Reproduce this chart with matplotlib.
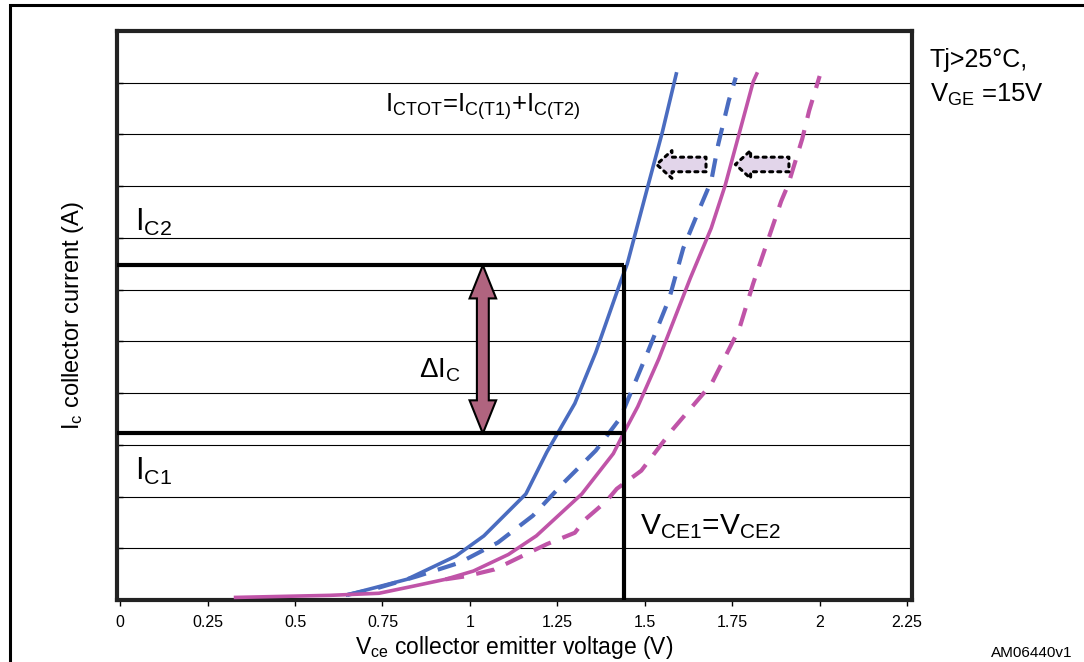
import numpy as np
import matplotlib
matplotlib.use("Agg")
import matplotlib.pyplot as plt
from matplotlib.patches import FancyArrowPatch, Polygon, Rectangle, ArrowStyle

plt.rcParams['font.family'] = ['Liberation Sans', 'DejaVu Sans']
plt.rcParams['mathtext.fontset'] = 'custom'
plt.rcParams['mathtext.rm'] = 'Liberation Sans'
plt.rcParams['mathtext.it'] = 'Liberation Sans'

# curves: Vce (V) vs Ic (grid units)
v_blue_solid = [0.65, 0.82, 0.96, 1.04, 1.16, 1.22, 1.30, 1.36, 1.43, 1.45, 1.51, 1.55, 1.59]
i_blue_solid = [0.10, 0.40, 0.85, 1.24, 2.05, 2.86, 3.80, 4.79, 6.14, 6.50, 8.03, 9.04, 10.17]

v_blue_dash = [0.65, 0.73, 0.85, 0.97, 1.08, 1.18, 1.27, 1.36, 1.43, 1.51, 1.57, 1.61, 1.66, 1.69, 1.71, 1.74, 1.76]
i_blue_dash = [0.10, 0.22, 0.46, 0.72, 1.11, 1.63, 2.28, 2.89, 3.52, 4.82, 5.83, 6.80, 7.62, 8.10, 8.81, 9.65, 10.10]

v_mag_solid = [0.33, 0.60, 0.74, 0.84, 0.93, 1.01, 1.11, 1.19, 1.32, 1.41, 1.44, 1.48, 1.54, 1.63, 1.69, 1.73, 1.77, 1.81, 1.82]
i_mag_solid = [0.05, 0.09, 0.13, 0.27, 0.40, 0.56, 0.88, 1.24, 2.05, 2.83, 3.23, 3.74, 4.66, 6.22, 7.19, 8.02, 9.02, 10.02, 10.17]

v_mag_dash = [0.93, 0.99, 1.07, 1.11, 1.18, 1.22, 1.30, 1.33, 1.39, 1.42, 1.49, 1.58, 1.69, 1.77, 1.81, 1.89, 1.91, 1.95, 1.97, 2.00]
i_mag_dash = [0.40, 0.46, 0.59, 0.72, 0.95, 1.08, 1.30, 1.56, 1.91, 2.15, 2.50, 3.30, 4.17, 5.24, 6.12, 7.71, 8.03, 8.91, 9.46, 10.13]

ic1 = 3.22
ic2 = 6.47
vce = 1.44
v_delta = 1.037
shift_y = 8.42
shift1 = (1.683, 1.526)
shift2 = (1.920, 1.751)

x_ticks = [0, 0.25, 0.5, 0.75, 1, 1.25, 1.5, 1.75, 2, 2.25]
x_tick_labels = ['0', '0.25', '0.5', '0.75', '1', '1.25', '1.5', '1.75', '2', '2.25']

blue = '#4A6CC0'
mag = '#C054A8'

fig = plt.figure(figsize=(10.84, 6.62), dpi=100)
ax = fig.add_axes([117/1084, 62/662, 795/1084, 569/662])

# outer frame
fig.patches.append(Rectangle((10/1084, -0.05), 1.2, 1 - 5/662 + 0.05, transform=fig.transFigure,
                             fill=False, lw=2.2, ec='black'))

ax.plot(v_blue_solid, i_blue_solid, color=blue, lw=2.6, zorder=4)
ax.plot(v_blue_dash, i_blue_dash, color=blue, lw=3, ls=(0, (4.5, 3)), zorder=4)
ax.plot(v_mag_solid, i_mag_solid, color=mag, lw=2.6, zorder=4)
ax.plot(v_mag_dash, i_mag_dash, color=mag, lw=3, ls=(0, (4.5, 3)), zorder=4)

# operating point box
ax.plot([-0.01, vce], [ic2, ic2], color='black', lw=3, zorder=5, solid_capstyle='butt')
ax.plot([-0.01, vce], [ic1, ic1], color='black', lw=3, zorder=5, solid_capstyle='butt')
ax.plot([vce, vce], [0, ic2], color='black', lw=3, zorder=5, solid_capstyle='butt')

# double headed arrow for delta Ic
sw, hw, hl = 0.017, 0.038, 0.64
pts = [(v_delta, ic2), (v_delta + hw, ic2 - hl), (v_delta + sw, ic2 - hl),
       (v_delta + sw, ic1 + hl), (v_delta + hw, ic1 + hl), (v_delta, ic1),
       (v_delta - hw, ic1 + hl), (v_delta - sw, ic1 + hl), (v_delta - sw, ic2 - hl),
       (v_delta - hw, ic2 - hl)]
ax.add_patch(Polygon(pts, closed=True, fc='#B0647F', ec='black', lw=1.5, zorder=6))

# hollow shift arrows
for tail, tip in (shift1, shift2):
    ax.add_patch(FancyArrowPatch((tail, shift_y), (tip, shift_y),
                                 arrowstyle=ArrowStyle.Simple(head_length=11, head_width=20, tail_width=10.5),
                                 fc='#E2D5EA', ec='black', ls=':', lw=2.2, zorder=6))

ax.text(0.757, 9.43, r'$\mathregular{I_{CTOT}}$=$\mathregular{I_{C(T1)}}$+$\mathregular{I_{C(T2)}}$',
        fontsize=18.5, va='baseline', ha='left')
ax.text(0.043, 7.13, r'$\mathregular{I_{C2}}$', fontsize=22, va='baseline', ha='left')
ax.text(0.043, 2.33, r'$\mathregular{I_{C1}}$', fontsize=22, va='baseline', ha='left')
ax.text(0.854, 4.30, r'$\mathregular{\Delta I_{C}}$', fontsize=20, va='baseline', ha='left')
ax.text(1.486, 1.27, r'$\mathregular{V_{CE1}}$=$\mathregular{V_{CE2}}$', fontsize=21.5, va='baseline', ha='left')

fig.text(930/1084, 1 - 67/662, 'Tj>25°C,', fontsize=18, va='baseline', ha='left')
fig.text(930/1084, 1 - 102/662, r'$\mathregular{V_{GE}}$ =15V', fontsize=18.5, va='baseline', ha='left')
fig.text(1072/1084, 1 - 657/662, 'AM06440v1', fontsize=11, va='baseline', ha='right')

ax.set_xlim(-0.009, 2.264)
ax.set_ylim(0, 11)
ax.set_xticks(x_ticks)
ax.set_xticklabels(x_tick_labels, fontsize=11.5)
ax.set_yticks(range(1, 11))
ax.tick_params(axis='y', direction='in', length=4, labelleft=False, width=1)
ax.tick_params(axis='x', direction='out', length=4, width=1, pad=7)
ax.grid(axis='y', color='black', lw=0.8)
for s in ax.spines.values():
    s.set_linewidth(3)
    s.set_color('#222222')

ax.set_xlabel(r'$\mathregular{V_{ce}}$ collector emitter voltage (V)', fontsize=16.5, labelpad=3)
ax.set_ylabel(r'$\mathregular{I_{c}}$ collector current (A)', fontsize=17, labelpad=22)

fig.savefig('out.png', dpi=100)
